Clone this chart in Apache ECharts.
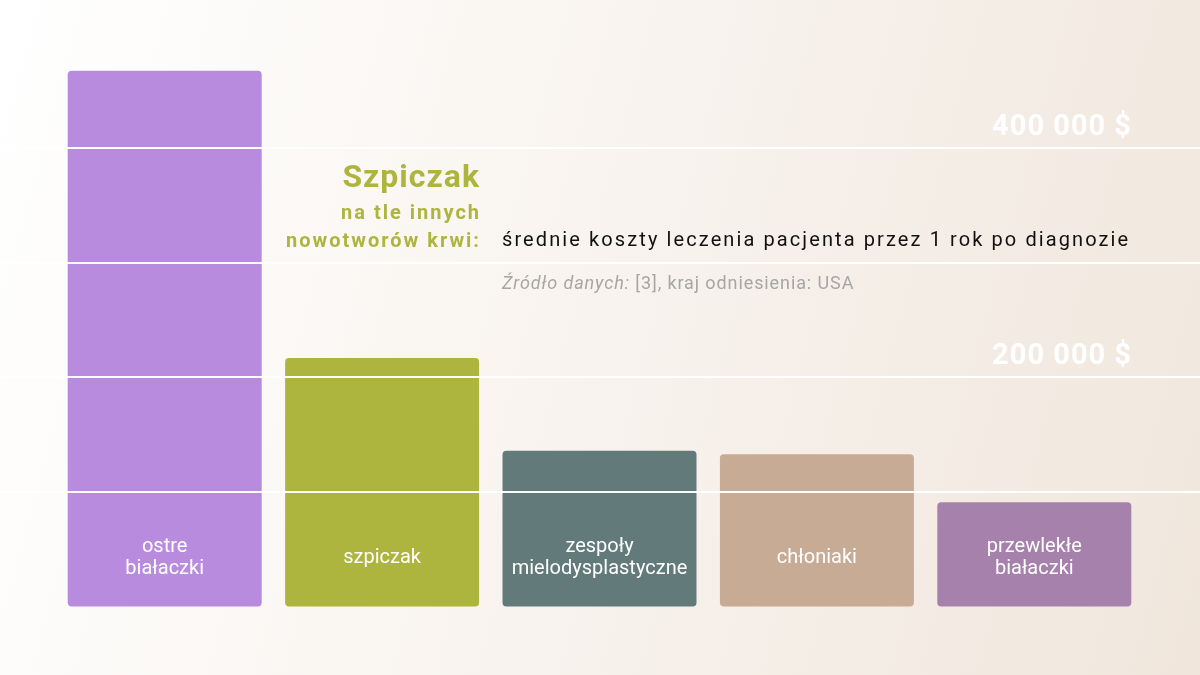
<!DOCTYPE html>
<html lang="pl">
<head>
    <meta charset="UTF-8">
    <title>Szpiczak - koszty leczenia</title>
    <script src="https://cdn.jsdelivr.net/npm/echarts@6/dist/echarts.min.js"></script>
    <style type="text/css">
        html, body {
            margin: 0;
            padding: 0;
        }
        #chart {
            width: 1200px;
            height: 675px;
            background: linear-gradient(105deg, #ffffff 0%, #f8f3ee 50%, #f0e6dc 100%);
        }
    </style>
</head>
<body>
<div id="chart"></div>
<script type="text/javascript">
    // kategorie i średnie koszty (USD, 1 rok po diagnozie)
    var categories = ['ostre\nbiałaczki', 'szpiczak', 'zespoły\nmielodysplastyczne', 'chłoniaki', 'przewlekłe\nbiałaczki'];
    var costs = [468000, 217000, 136000, 133000, 91000];
    var barColors = ['#b98bde', '#aeb53e', '#627a7a', '#c8ab95', '#a681ab'];

    // linie siatki i opisane wartości
    var tickValues = [200000, 400000];
    var tickLabels = ['200 000 $', '400 000 $'];

    // echarts nie ma letter-spacing: odstęp idzie w nazwie fontu ("sp21" = 2.1px)
    // i jest ustawiany na kontekście canvas przy mierzeniu i rysowaniu tekstu
    var ctxProto = CanvasRenderingContext2D.prototype;
    ['fillText', 'measureText'].forEach(function (name) {
        var orig = ctxProto[name];
        ctxProto[name] = function () {
            var m = /sp(\d+)/.exec(this.font);
            this.letterSpacing = m ? (m[1] / 10) + 'px' : '0px';
            return orig.apply(this, arguments);
        };
    });

    var myChart = echarts.init(document.getElementById('chart'));

    var barData = [];
    for (var i = 0; i < costs.length; i++) {
        barData.push({
            value: costs[i],
            itemStyle: {color: barColors[i]}
        });
    }

    var option = {
        backgroundColor: 'transparent',
        animation: false,
        grid: [
            // słupki
            {left: 56, right: 57, top: 34, bottom: 68.5},
            // linie siatki na całą szerokość
            {left: 0, right: 0, top: 148, bottom: 183.5}
        ],
        xAxis: [
            {type: 'category', gridIndex: 0, data: categories, show: false},
            {type: 'value', gridIndex: 1, show: false}
        ],
        yAxis: [
            {type: 'value', gridIndex: 0, min: 0, max: 500000, show: false},
            {
                type: 'value',
                gridIndex: 1,
                min: 100000,
                max: 400000,
                interval: 100000,
                position: 'right',
                z: 10,
                axisLine: {show: false},
                axisTick: {show: false},
                splitLine: {
                    show: true,
                    lineStyle: {color: '#ffffff', width: 2}
                },
                axisLabel: {
                    inside: true,
                    margin: 68,
                    verticalAlign: 'bottom',
                    padding: [0, 0, 5, 0],
                    color: '#ffffff',
                    fontFamily: 'Roboto, sp10',
                    fontWeight: 'bold',
                    fontSize: 29,
                    formatter: function (v) {
                        var idx = tickValues.indexOf(v);
                        return idx >= 0 ? tickLabels[idx] : '';
                    }
                }
            }
        ],
        series: [
            {
                type: 'bar',
                xAxisIndex: 0,
                yAxisIndex: 0,
                barWidth: 194,
                data: barData,
                itemStyle: {borderRadius: 4},
                label: {
                    show: true,
                    position: 'insideBottom',
                    distance: 49,
                    verticalAlign: 'middle',
                    align: 'center',
                    color: '#ffffff',
                    fontFamily: 'Roboto',
                    fontSize: 20,
                    lineHeight: 22,
                    formatter: function (p) {
                        return p.name;
                    }
                }
            }
        ],
        graphic: [
            {
                type: 'text',
                right: 720,
                top: 162,
                style: {
                    text: 'Szpiczak',
                    fill: '#aeb53e',
                    font: 'bold 32px Roboto, sp10'
                }
            },
            {
                type: 'text',
                right: 719,
                top: 200,
                style: {
                    text: 'na tle innych\nnowotworów krwi:',
                    fill: '#aeb53e',
                    font: 'bold 20px Roboto, sp20',
                    textAlign: 'right',
                    lineHeight: 28
                }
            },
            {
                type: 'text',
                left: 502,
                top: 230,
                style: {
                    text: 'średnie koszty leczenia pacjenta przez 1 rok po diagnozie',
                    fill: '#111111',
                    font: '20px Roboto, sp21'
                }
            },
            {
                type: 'text',
                left: 502,
                top: 275,
                style: {
                    text: '{i|Źródło danych:} [3], kraj odniesienia: USA',
                    fill: '#a6a6a6',
                    font: '18px Roboto, sp9',
                    rich: {
                        i: {
                            fontStyle: 'italic',
                            fontFamily: 'Roboto, sp9',
                            fontSize: 18,
                            fill: '#a6a6a6'
                        }
                    }
                }
            }
        ]
    };

    myChart.setOption(option);
</script>
</body>
</html>
